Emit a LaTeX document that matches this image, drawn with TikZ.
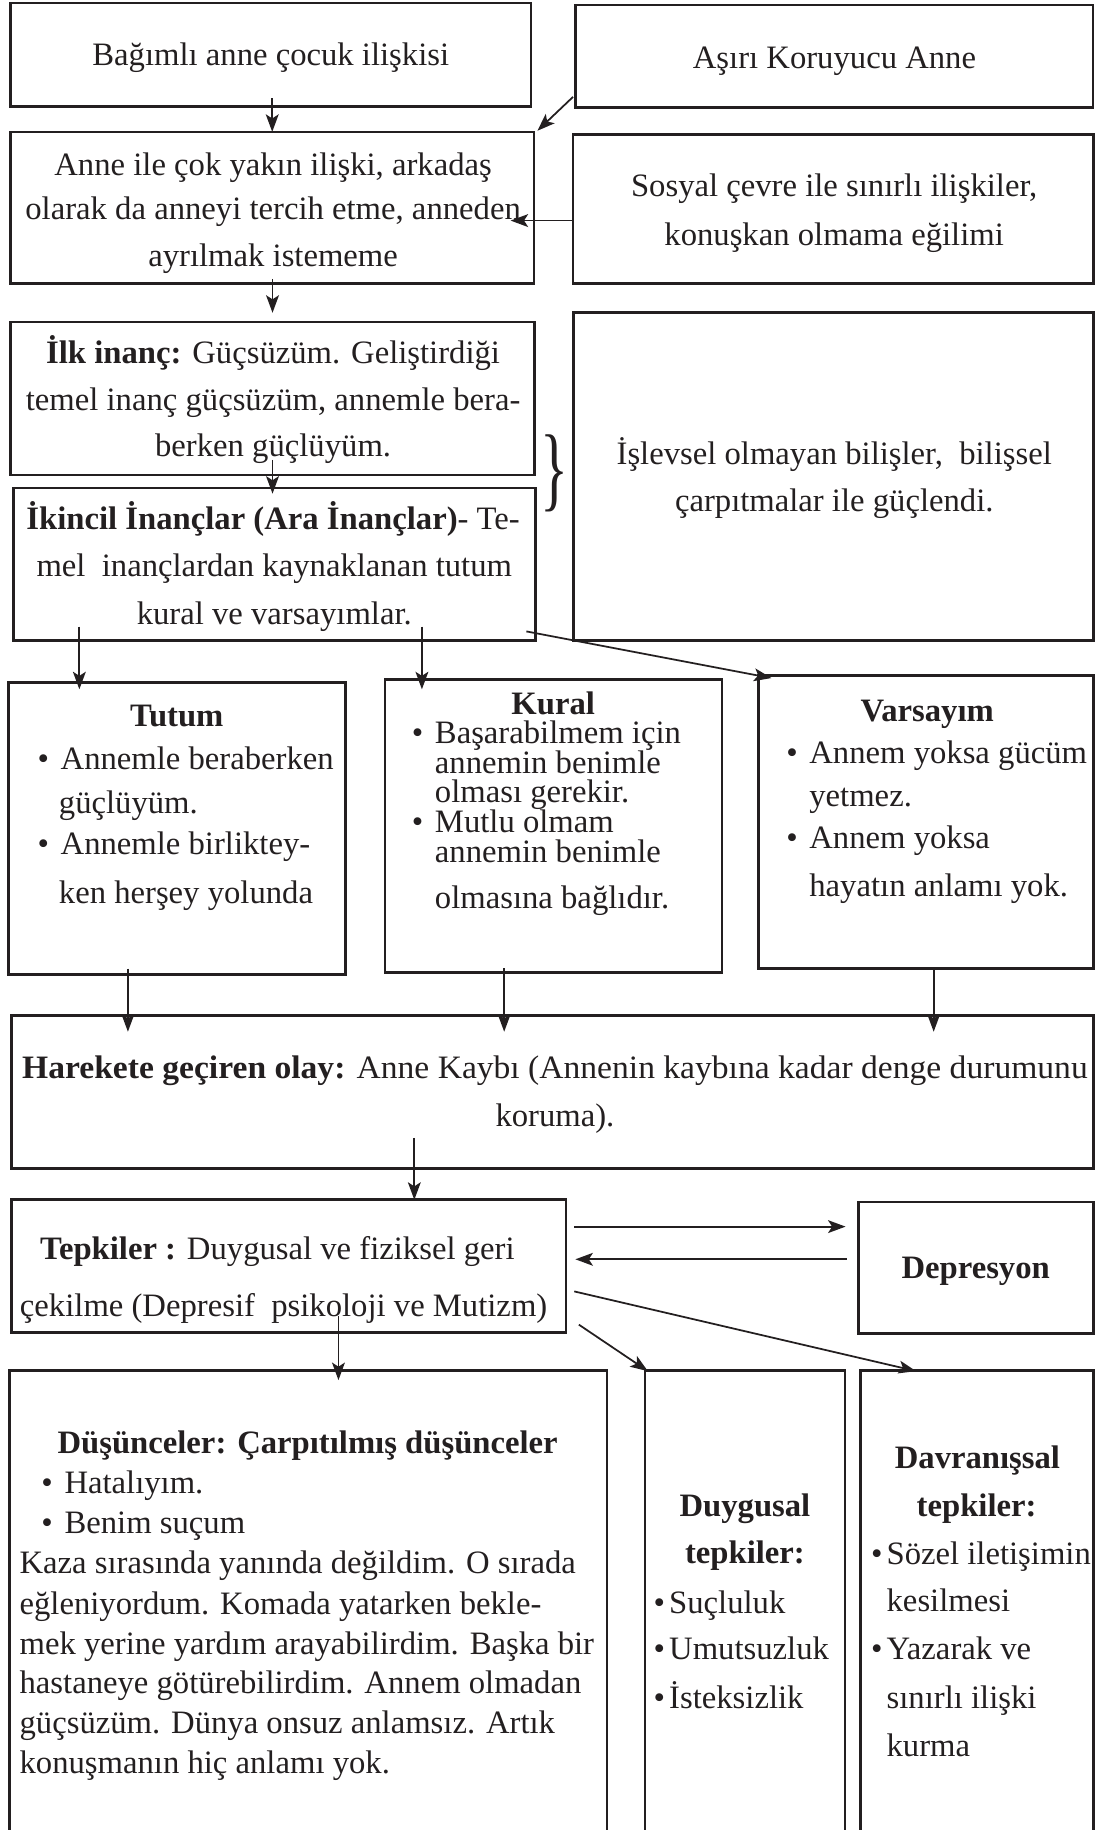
\documentclass[tikz,border=0pt]{standalone}
\usepackage{fontspec}
\setmainfont{Liberation Serif}
\usetikzlibrary{arrows.meta,calc}
\definecolor{ink}{HTML}{231F20}
\newcommand\bulA{\llap{\textbullet\hspace{10pt}}}
\newcommand\bulB{\llap{\textbullet\hspace{3.5pt}}}
\begin{document}
\begin{tikzpicture}[x=1pt,y=-1pt,
  box/.style={draw=ink,line width=2.3pt,inner sep=0pt,outer sep=0pt,anchor=north west},
  arr/.style={draw=ink,line width=1.5pt,-{Stealth[length=15pt,width=11pt,inset=3.5pt]}},
  tx/.style={inner sep=0pt,outer sep=0pt,text=ink,font=\fontsize{28}{32}\selectfont,anchor=base},
  tl/.style={tx,anchor=base west},
]
\path[use as bounding box] (0,0) rectangle (939,1568);
\clip (0,0) rectangle (939,1568);

% boxes
\node[box,minimum width=446pt,minimum height=88.5pt] (b1) at (9,2.5) {};
\node[box,minimum width=443.5pt,minimum height=87.7pt] (asiri) at (493,4.3) {};
\node[box,minimum width=448.5pt,minimum height=130pt] (b2) at (9,113) {};
\node[box,minimum width=446pt,minimum height=128pt] (sosyal) at (491,115) {};
\node[box,minimum width=449pt,minimum height=131pt] (b3) at (9,276) {};
\node[box,minimum width=447.4pt,minimum height=131pt] (b4) at (11.6,418) {};
\node[box,minimum width=445.5pt,minimum height=281pt] (islevsel) at (491.5,268) {};
\node[box,minimum width=289pt,minimum height=250pt] (tutum) at (7,585) {};
\node[box,minimum width=288.5pt,minimum height=251pt] (kural) at (330,582) {};
\node[box,minimum width=287pt,minimum height=251pt] (vars) at (650,579) {};
\node[box,minimum width=927pt,minimum height=131pt] (hare) at (10,870) {};
\node[box,minimum width=475pt,minimum height=114.5pt] (tep) at (10,1027.5) {};
\node[box,minimum width=201.5pt,minimum height=112.3pt] (dep) at (735.5,1030) {};
\node[box,minimum width=512pt,minimum height=430pt] (dus) at (8,1174.5) {};
\node[box,minimum width=171.4pt,minimum height=430pt] (duyg) at (552.6,1174.3) {};
\node[box,minimum width=199.3pt,minimum height=430pt] (davr) at (737.4,1174.3) {};

% brace
\node[inner sep=0pt,text=ink] (brace) at (475,406) {\scalebox{1}[1.6]{\fontsize{50}{50}\selectfont\}}};

% connectors
\draw[arr] ($(b2.north |- b1.south)+(0,-7)$) -- (b2.north);
\draw[arr] ($(b3.north |- b2.south)+(0,-4)$) -- ($(b3.north)+(0,-8)$);
\draw[arr] ($(b3.south)+(0,-13)$) -- ($(b3.south |- b4.north)+(0,5)$);
\draw[arr] ($(asiri.south west)+(-2,-9)$) -- ($(b2.north east)+(3,-1)$);
\draw[arr] ($(sosyal.west)+(0,10)$) -- ($(b2.east |- sosyal.west)+(-20,10)$);
\draw[arr] ($(tutum.north west |- b4.south)+(61,-12)$) -- ($(tutum.north west)+(61,5.6)$);
\draw[arr] ($(kural.north west |- b4.south)+(31.5,-12)$) -- ($(kural.north west)+(31.5,8.6)$);
\draw[arr] ($(b4.south east)+(-8,-8)$) -- ($(vars.north west)+(11,2)$);
\draw[arr] ($(tutum.south west)+(102.6,-5)$) -- ($(tutum.south west |- hare.north)+(102.6,14)$);
\draw[arr] ($(kural.south west)+(102,-3.4)$) -- ($(kural.south west |- hare.north)+(102,14)$);
\draw[arr] ($(vars.south west)+(150,1)$) -- ($(vars.south west |- hare.north)+(150,14)$);
\draw[arr] ($(hare.north west |- hare.south)+(345,-26)$) -- ($(hare.north west |- tep.north)+(345,0.5)$);
\draw[arr] ($(tep.east |- dep.north)+(7,21)$) -- ($(dep.north west)+(-11,21)$);
\draw[arr] ($(dep.north west)+(-10,49)$) -- ($(tep.east |- dep.north)+(8,49)$);
\draw[arr] ($(tep.north east)+(7,79)$) -- ($(davr.north west)+(47.5,0.5)$);
\draw[arr] ($(tep.north east)+(11,107.5)$) -- ($(duyg.north west)+(2.5,0.5)$);
\draw[arr] ($(tep.south west)+(280,-14)$) -- ($(tep.south west |- dus.north)+(280,8)$);

% texts
\node[tx] (t1) at (232,55.7) {Bağımlı anne çocuk ilişkisi};
\node[tx] (t2) at (715,58.5) {Aşırı Koruyucu Anne};
\node[tx] (t3a) at (234,150) {Anne ile çok yakın ilişki, arkadaş};
\node[tx] (t3b) at (234,188.5) {olarak da anneyi tercih etme, anneden};
\node[tx] (t3c) at (234,228.5) {ayrılmak istememe};
\node[tx] (t4a) at (714.7,168.5) {Sosyal çevre ile sınırlı ilişkiler,};
\node[tx] (t4b) at (714.7,210) {konuşkan olmama eğilimi};
\node[tx] (t5a) at (234,311.3) {\textbf{İlk inanç:} Güçsüzüm. Geliştirdiği};
\node[tx] (t5b) at (234,351.3) {temel inanç güçsüzüm, annemle bera-};
\node[tx] (t5c) at (234,391.3) {berken güçlüyüm.};
\node[tx] (t6a) at (234,454) {\textbf{İkincil İnançlar (Ara İnançlar)}- Te-};
\node[tx] (t6b) at (235,494) {mel\ \ inançlardan kaynaklanan tutum};
\node[tx] (t6c) at (235,535.5) {kural ve varsayımlar.};
\node[tx] (t7a) at (714.8,398.4) {İşlevsel olmayan bilişler,\ \ bilişsel};
\node[tx] (t7b) at (714.8,438.4) {çarpıtmalar ile güçlendi.};

\node[tx] (t8) at (151.5,622.6) {\textbf{Tutum}};
\node[tl] (t8a) at (52,659.7) {\bulA Annemle beraberken};
\node[tl] (t8b) at (50.5,696.8) {güçlüyüm.};
\node[tl] (t8c) at (52,732.5) {\bulA Annemle birliktey-};
\node[tl] (t8d) at (50.5,774) {ken herşey yolunda};

\node[tx] (t9) at (474,612) {\textbf{Kural}};
\node[tl] (t9a) at (372.7,637) {\bulA Başarabilmem için};
\node[tl] (t9b) at (372.7,662.5) {annemin benimle};
\node[tl] (t9c) at (372.7,688) {olması gerekir.};
\node[tl] (t9d) at (372.7,713.5) {\bulA Mutlu olmam};
\node[tl] (t9e) at (372.7,739) {annemin benimle};
\node[tl] (t9f) at (372.7,778) {olmasına bağlıdır.};

\node[tx] (t10) at (794.5,618.3) {\textbf{Varsayım}};
\node[tl] (t10a) at (693.5,654) {\bulA Annem yoksa gücüm};
\node[tl] (t10b) at (693.5,691) {yetmez.};
\node[tl] (t10c) at (693.5,726.8) {\bulA Annem yoksa};
\node[tl] (t10d) at (693.5,768.2) {hayatın anlamı yok.};

\node[tx] (t11a) at (475.5,923.9) {\resizebox{913pt}{\height}{\textbf{Harekete geçiren olay:} Anne Kaybı (Annenin kaybına kadar denge durumunu}};
\node[tx] (t11b) at (475.5,965.3) {koruma).};

\node[tx] (t12a) at (237.7,1079.5) {\textbf{Tepkiler :} Duygusal ve fiziksel geri};
\node[tx] (t12b) at (243,1128) {çekilme (Depresif\ \ psikoloji ve Mutizm)};
\node[tx] (t13) at (836,1095.2) {\textbf{Depresyon}};

\node[tx] (t14) at (263.6,1245.2) {\textbf{Düşünceler: Çarpıtılmış düşünceler}};
\node[tl] (t14a) at (55.3,1279.4) {\bulA Hatalıyım.};
\node[tl] (t14b) at (55.3,1313.7) {\bulA Benim suçum};
\node[tl] (t14c) at (16.8,1348) {Kaza sırasında yanında değildim. O sırada};
\node[tl] (t14d) at (16.8,1383.7) {eğleniyordum. Komada yatarken bekle-};
\node[tl] (t14e) at (16.8,1418) {mek yerine yardım arayabilirdim. Başka bir};
\node[tl] (t14f) at (16.8,1450.8) {hastaneye götürebilirdim. Annem olmadan};
\node[tl] (t14g) at (16.8,1485) {güçsüzüm. Dünya onsuz anlamsız. Artık};
\node[tl] (t14h) at (16.8,1519.3) {konuşmanın hiç anlamı yok.};

\node[tx] (t15) at (638.3,1299.4) {\textbf{Duygusal}};
\node[tx] (t15b) at (638.3,1339.4) {\textbf{tepkiler:}};
\node[tl] (t15c) at (573.4,1382.2) {\bulB Suçluluk};
\node[tl] (t15d) at (573.4,1422.2) {\bulB Umutsuzluk};
\node[tl] (t15e) at (573.4,1463.6) {\bulB İsteksizlik};

\node[tx] (t16) at (837.5,1258) {\textbf{Davranışsal}};
\node[tx] (t16b) at (836.8,1299.4) {\textbf{tepkiler:}};
\node[tl] (t16c) at (759.7,1340.8) {\bulB Sözel iletişimin};
\node[tl] (t16d) at (759.7,1380.8) {kesilmesi};
\node[tl] (t16e) at (759.7,1422.2) {\bulB Yazarak ve};
\node[tl] (t16f) at (759.7,1463.6) {sınırlı ilişki};
\node[tl] (t16g) at (759.7,1505) {kurma};
\end{tikzpicture}
\end{document}
